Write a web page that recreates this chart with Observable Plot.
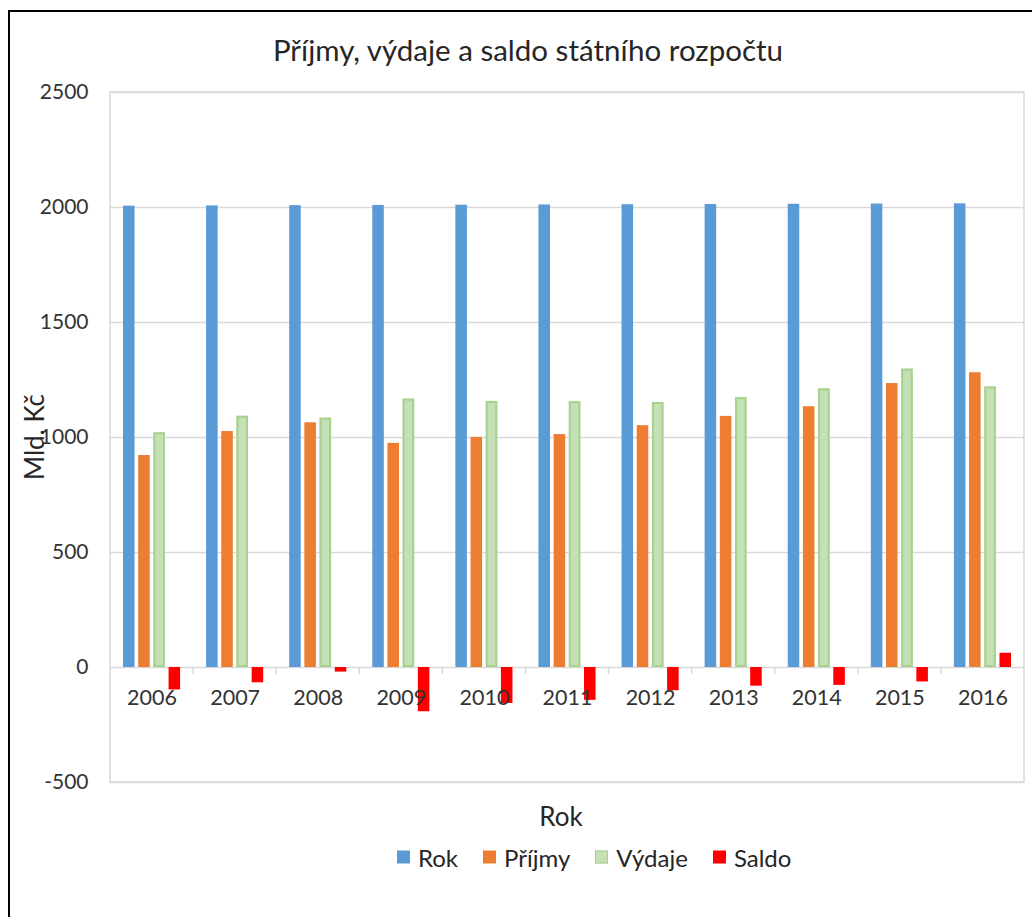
<!DOCTYPE html>
<html>
<head>
<meta charset="utf-8">
<script src="https://cdn.jsdelivr.net/npm/d3@7"></script>
<script src="https://cdn.jsdelivr.net/npm/@observablehq/plot@0.6"></script>
<style>
  body { margin: 0; background: #fff; }
  #wrap { position: relative; width: 1032px; height: 917px; overflow: hidden; font-family: Lato, "Open Sans", sans-serif; }
  #border { position: absolute; left: 8px; top: 10px; width: 1100px; height: 1000px; border-left: 2.5px solid #000; border-top: 2.5px solid #000; box-sizing: border-box; }
  #chart { position: absolute; left: 0; top: 0; }
  #title { position: absolute; left: 0; width: 1056px; top: 32px; text-align: center; font-size: 29.5px; color: #262626; white-space: nowrap; }
  #ylabel { position: absolute; left: 34px; top: 437px; transform: translate(-50%, -50%) rotate(-90deg); font-size: 26px; color: #262626; white-space: nowrap; }
  #xlabel { position: absolute; left: 561px; top: 816px; transform: translate(-50%, -50%); font-size: 26px; color: #262626; white-space: nowrap; }
  #legend { position: absolute; left: 397px; top: 857px; transform: translateY(-50%); display: flex; align-items: center; font-size: 24px; color: #262626; white-space: nowrap; }
  .item { display: flex; align-items: center; margin-right: 25px; }
  .sw { width: 13px; height: 13px; margin-right: 8px; box-sizing: border-box; }
</style>
</head>
<body>
<div id="wrap">
  <div id="border"></div>
  <div id="chart"></div>
  <div id="title">Příjmy, výdaje a saldo státního rozpočtu</div>
  <div id="ylabel">Mld. Kč</div>
  <div id="xlabel">Rok</div>
  <div id="legend"></div>
</div>
<script>
const years  = [2006, 2007, 2008, 2009, 2010, 2011, 2012, 2013, 2014, 2015, 2016];
const rok    = [2006, 2007, 2008, 2009, 2010, 2011, 2012, 2013, 2014, 2015, 2016];
const prijmy = [921.6, 1025.9, 1063.9, 974.6, 1000.4, 1012.8, 1051.4, 1091.9, 1133.8, 1234.5, 1281.6];
const vydaje = [1020.6, 1092.3, 1083.9, 1167.0, 1156.8, 1155.5, 1152.4, 1173.1, 1211.6, 1297.3, 1219.8];
const saldo  = [-97.6, -66.4, -20.0, -192.4, -156.4, -142.8, -101.0, -81.3, -77.8, -62.8, 61.8];
const seriesNames  = ["Rok", "Příjmy", "Výdaje", "Saldo"];
const seriesColors = ["#5B9BD5", "#ED7D31", "#C5E0B4", "#FF0000"];
const yTicks = [-500, 0, 500, 1000, 1500, 2000, 2500];

const seriesValues = [rok, prijmy, vydaje, saldo];
const table = years.flatMap((yr, i) =>
  seriesNames.map((s, j) => ({ year: yr, series: s, value: seriesValues[j][i] }))
);

const plot = Plot.plot({
  width: 1032,
  height: 917,
  marginTop: 92,
  marginBottom: 135,
  marginLeft: 110,
  marginRight: 8,
  style: { fontFamily: "Lato, 'Open Sans', sans-serif", fontSize: "21px", color: "#333333", background: "transparent", overflow: "visible" },
  fx: { domain: years, padding: 0, axis: null, round: false },
  x: { domain: seriesNames, paddingInner: 0.24, paddingOuter: 0.855, axis: null, round: false },
  y: { domain: [-500, 2500], ticks: yTicks, tickSize: 0, tickPadding: 22, label: null, tickFormat: d => String(d) },
  color: { domain: seriesNames, range: seriesColors },
  marks: [
    Plot.ruleY(yTicks, { stroke: "#D9D9D9", strokeWidth: 1.5 }),
    Plot.barY(table, { fx: "year", x: "series", y: "value", fill: "series" }),
    Plot.barY(table.filter(d => d.series === "Výdaje"), { fx: "year", x: "series", y: "value", fill: "none", stroke: "#A9D18E", strokeWidth: 2, inset: 1 }),
    Plot.text(years, { fx: d => d, y: () => 0, text: d => String(d), dy: 31, fill: "#333333", fontSize: 21.5 })
  ]
});

document.getElementById("chart").appendChild(plot);

// frame and category ticks from the plot's own scales
const fxs = plot.scale("fx");
const ys = plot.scale("y");
const svg = d3.select(plot);
const [fx0, fx1] = fxs.range;
const [yb, yt] = ys.range;
svg.append("rect")
  .attr("x", fx0).attr("y", yt)
  .attr("width", fx1 - fx0).attr("height", yb - yt)
  .attr("fill", "none").attr("stroke", "#D9D9D9").attr("stroke-width", 1.5);
const y0 = ys.apply(0);
years.slice(1).forEach(yr => {
  const xx = fxs.apply(yr);
  svg.append("line")
    .attr("x1", xx).attr("x2", xx)
    .attr("y1", y0).attr("y2", y0 + 7)
    .attr("stroke", "#D9D9D9").attr("stroke-width", 1.5);
});

// legend
const legend = document.getElementById("legend");
seriesNames.forEach((s, i) => {
  const item = document.createElement("div");
  item.className = "item";
  const sw = document.createElement("div");
  sw.className = "sw";
  sw.style.background = seriesColors[i];
  if (s === "Výdaje") sw.style.border = "1.5px solid #A9D18E";
  const t = document.createElement("span");
  t.textContent = s;
  item.appendChild(sw);
  item.appendChild(t);
  legend.appendChild(item);
});
</script>
</body>
</html>
